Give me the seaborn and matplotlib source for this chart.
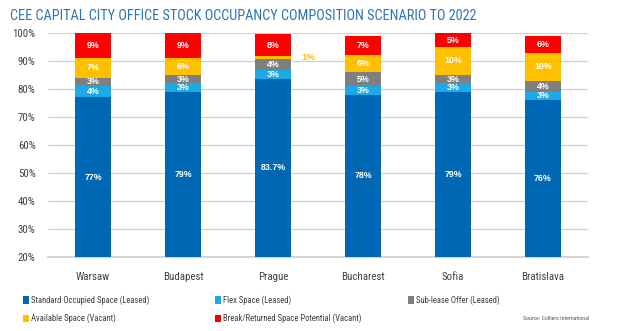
import matplotlib
matplotlib.use("Agg")
import matplotlib.pyplot as plt
import seaborn as sns
import pandas as pd
import numpy as np
from matplotlib.patches import Patch

# Occupancy composition by city (% of office stock)
cities = ["Warsaw", "Budapest", "Prague", "Bucharest", "Sofia", "Bratislava"]
standard = [77, 79, 83.7, 78, 79, 76]
flex = [4, 3, 3, 3, 3, 3]
sublease = [3, 3, 4, 5, 3, 4]
available = [7, 6, 1, 6, 10, 10]
break_returned = [9, 9, 8, 7, 5, 6]

series_names = [
    "Standard Occupied Space (Leased)",
    "Flex Space (Leased)",
    "Sub-lease Offer (Leased)",
    "Available Space (Vacant)",
    "Break/Returned Space Potential (Vacant)",
]
series_values = [standard, flex, sublease, available, break_returned]
colors = ["#0067B4", "#1BA9E8", "#7F7F7F", "#FFC000", "#FF0000"]

sns.set_theme(style="white")
plt.rcParams["font.family"] = ["Roboto Condensed", "DejaVu Sans"]

fig = plt.figure(figsize=(6.3, 3.31), dpi=100)
ax = fig.add_axes([0.0762, 0.2236, 0.8571, 0.6767])

vals = np.array(series_values, dtype=float)
cum = np.cumsum(vals, axis=0)

# stacked bars: draw the tallest cumulative layer first, then overlay lower ones
for i in range(len(series_names) - 1, -1, -1):
    df = pd.DataFrame({"city": cities, "value": cum[i]})
    sns.barplot(data=df, x="city", y="value", color=colors[i], width=0.4,
                saturation=1, ax=ax, zorder=3, errorbar=None,
                linewidth=0, edgecolor="none")

ymin = 20
ax.set_ylim(ymin, 100)
ax.set_xlim(-0.5, len(cities) - 0.5)
ax.set_yticks(range(20, 101, 10))
ax.set_yticklabels([f"{t}%" for t in range(20, 101, 10)])
ax.yaxis.grid(True, color="#D0D0D0", linewidth=0.9, zorder=0)
ax.set_axisbelow(True)
for s in ["top", "right", "left"]:
    ax.spines[s].set_visible(False)
ax.spines["bottom"].set_color("#D0D0D0")
ax.set_xlabel("")
ax.set_ylabel("")
ax.tick_params(axis="y", length=0, labelsize=7.8, colors="#404040", pad=9)
ax.tick_params(axis="x", length=0, labelsize=7.8, colors="#404040", pad=11)


def fmt(v):
    return f"{v:g}%"


lab_font = ["Liberation Sans", "DejaVu Sans"]
# value labels
for j in range(len(cities)):
    for i in range(len(series_names)):
        v = vals[i, j]
        top = cum[i, j]
        bottom = top - v
        if i == 3 and v < 2:
            ax.text(j + 0.32, top - 0.3, fmt(v), color="#FFC000", fontsize=6.8,
                    fontweight="bold", ha="left", va="center", zorder=5,
                    family=lab_font)
            continue
        yc = (max(bottom, ymin) + top) / 2
        ax.text(j, yc, fmt(v), color="white", fontsize=6.4, fontweight="bold",
                ha="center", va="center", zorder=5, family=lab_font)

fig.text(0.016, 0.952, "CEE CAPITAL CITY OFFICE STOCK OCCUPANCY COMPOSITION SCENARIO TO 2022",
         color="#2E74B5", fontsize=10.3, ha="left", va="center")

handles = [Patch(facecolor=c, edgecolor="none") for c in colors]
leg_cols = [([0, 3], 0.037), ([1, 4], 0.342), ([2], 0.648)]
for idxs, x in leg_cols:
    leg = fig.legend([handles[k] for k in idxs], [series_names[k] for k in idxs],
                     loc="upper left", bbox_to_anchor=(x, 0.107), frameon=False,
                     fontsize=6.2, handlelength=0.65, handleheight=0.9,
                     handletextpad=0.25, labelspacing=1.0, borderpad=0,
                     borderaxespad=0)
    for t in leg.get_texts():
        t.set_color("#404040")

fig.text(0.935, 0.038, "Source: Colliers International", fontsize=4.2,
         color="#595959", ha="right", va="center")

fig.savefig("out.png", dpi=100)
